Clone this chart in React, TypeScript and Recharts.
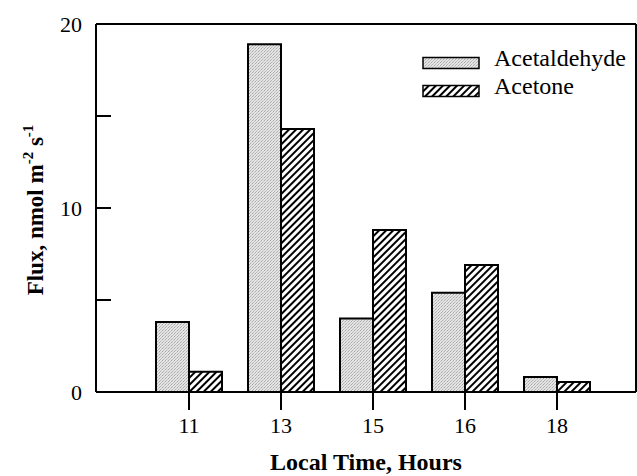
import { Bar, BarChart, Legend, ReferenceLine, XAxis, YAxis } from 'recharts';

const times = ['11', '13', '15', '16', '18'];
const acetaldehyde = [3.8, 18.9, 4.0, 5.4, 0.82];
const acetone = [1.1, 14.3, 8.8, 6.9, 0.55];
const leftTicks = [0, 5, 10, 15, 20];
const rightTicks = [5, 10, 15];

const data = times.map((time, i) => ({
  time,
  acetaldehyde: acetaldehyde[i],
  acetone: acetone[i],
}));

const FONT = 'Liberation Serif, Tinos, DejaVu Serif, serif';

const LeftTick = (props: any) => {
  const { x, y, payload } = props;
  const axisX = x + 14;
  const showLabel = payload.value % 10 === 0;
  return (
    <g>
      <line x1={axisX} x2={axisX + 15} y1={y} y2={y} stroke="#000" strokeWidth={2} />
      {showLabel && (
        <text x={x} y={y} textAnchor="end" dominantBaseline="central" fontSize={22} style={{ fontFamily: FONT }} fill="#000">
          {payload.value}
        </text>
      )}
    </g>
  );
};

const RightTick = (props: any) => {
  const { x, y } = props;
  return <line x1={x - 15} x2={x} y1={y} y2={y} stroke="#000" strokeWidth={2} />;
};

const YLabel = (props: any) => {
  const { viewBox } = props;
  const cy = viewBox.y + viewBox.height / 2 + 2;
  const cx = 43;
  return (
    <text
      x={cx}
      y={cy}
      transform={`rotate(-90 ${cx} ${cy})`}
      textAnchor="middle"
      style={{ fontFamily: FONT }}
      fontWeight="bold"
      fontSize={23}
      fill="#000"
    >
      Flux, nmol m
      <tspan dy={-10} fontSize={15}>-2</tspan>
      <tspan dy={10}> s</tspan>
      <tspan dy={-10} fontSize={15}>-1</tspan>
    </text>
  );
};

const XLabel = (props: any) => {
  const { viewBox } = props;
  return (
    <text
      x={viewBox.x + viewBox.width / 2}
      y={viewBox.y + 78}
      textAnchor="middle"
      style={{ fontFamily: FONT }}
      fontWeight="bold"
      fontSize={24}
      fill="#000"
    >
      Local Time, Hours
    </text>
  );
};

const XTick = (props: any) => {
  const { x, y, payload } = props;
  return (
    <text x={x} y={y} dy="0.71em" textAnchor="middle" fontSize={22} style={{ fontFamily: FONT }} fill="#000">
      {payload.value}
    </text>
  );
};

const legendItems = [
  { name: 'Acetaldehyde', fill: 'url(#stipple)' },
  { name: 'Acetone', fill: 'url(#hatch)' },
];

const LegendBox = () => (
  <div style={{ fontFamily: FONT, fontSize: 24, color: '#000', lineHeight: '28px' }}>
    {legendItems.map((item) => (
      <div key={item.name} style={{ display: 'flex', alignItems: 'flex-start', height: 28 }}>
        <svg width={58} height={14} style={{ marginTop: 11.5, marginRight: 14, display: 'block' }}>
          <rect x={1} y={1.5} width={56} height={11} fill={item.fill} stroke="#000" strokeWidth={1.5} />
        </svg>
        <span>{item.name}</span>
      </div>
    ))}
  </div>
);

export default function App() {
  return (
    <div style={{ position: 'absolute', left: 0, top: 0, background: '#fff', fontFamily: FONT }}>
      <BarChart
        width={637}
        height={476}
        data={data}
        margin={{ top: 24, right: 0, left: 0, bottom: 0 }}
        barCategoryGap={13}
        barGap={0}
      >
        <defs>
          <pattern id="stipple" patternUnits="userSpaceOnUse" width={3} height={3}>
            <rect width={3} height={3} fill="#e4e4e4" />
            <rect x={0} y={0} width={1} height={1} fill="#a8a8a8" />
            <rect x={2} y={1} width={1} height={1} fill="#c4c4c4" />
            <rect x={1} y={2} width={1} height={1} fill="#b4b4b4" />
          </pattern>
          <pattern id="hatch" patternUnits="userSpaceOnUse" width={5} height={5} patternTransform="rotate(45)">
            <rect width={5} height={5} fill="#fff" />
            <line x1={1} y1={0} x2={1} y2={5} stroke="#000" strokeWidth={2} />
          </pattern>
        </defs>
        <XAxis
          dataKey="time"
          height={84}
          padding={{ left: 47, right: 33 }}
          axisLine={{ stroke: '#000', strokeWidth: 2 }}
          tickLine={{ stroke: '#000', strokeWidth: 2 }}
          tickSize={18}
          tickMargin={7}
          tick={XTick}
          label={{ content: XLabel }}
        />
        <YAxis
          yAxisId="left"
          width={96}
          domain={[0, 20]}
          ticks={leftTicks}
          interval={0}
          tickSize={0}
          tickMargin={14}
          tickLine={false}
          axisLine={{ stroke: '#000', strokeWidth: 2 }}
          tick={LeftTick}
          label={{ content: YLabel }}
        />
        <YAxis
          yAxisId="right"
          orientation="right"
          width={1}
          domain={[0, 20]}
          ticks={rightTicks}
          interval={0}
          tickSize={0}
          tickMargin={0}
          tickLine={false}
          axisLine={{ stroke: '#000', strokeWidth: 2 }}
          tick={RightTick}
        />
        <ReferenceLine yAxisId="left" y={20} stroke="#000" strokeWidth={2} />
        <Legend
          layout="horizontal"
          verticalAlign="middle"
          align="center"
          content={LegendBox}
          wrapperStyle={{ position: 'absolute', left: 422, top: 44, width: 'auto', height: 'auto' }}
        />
        <Bar
          yAxisId="left"
          dataKey="acetaldehyde"
          name="Acetaldehyde"
          fill="url(#stipple)"
          stroke="#000"
          strokeWidth={2}
          isAnimationActive={false}
        />
        <Bar
          yAxisId="left"
          dataKey="acetone"
          name="Acetone"
          fill="url(#hatch)"
          stroke="#000"
          strokeWidth={2}
          isAnimationActive={false}
        />
      </BarChart>
    </div>
  );
}
